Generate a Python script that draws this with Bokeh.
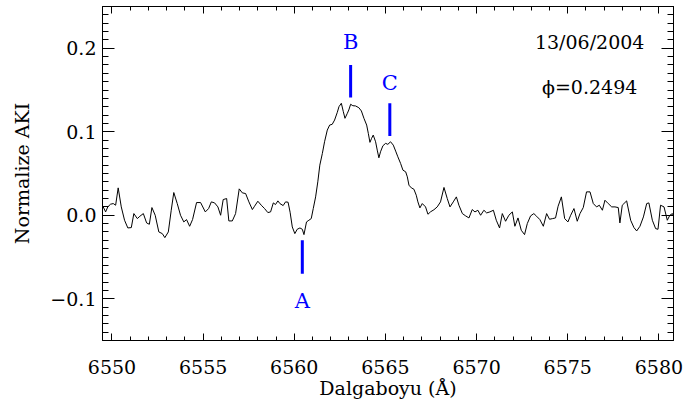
from bokeh.plotting import figure
from bokeh.models import Range1d, FixedTicker, LinearAxis
from bokeh.embed import file_html
from bokeh.resources import INLINE
from bokeh.core.properties import value

# ---- data ----
wavelength = [
    6549.52, 6549.65, 6549.77, 6549.92, 6550.07, 6550.20, 6550.34, 6550.51, 6550.69, 6550.87,
    6551.06, 6551.20, 6551.39, 6551.53, 6551.72, 6551.90, 6552.05, 6552.19, 6552.37, 6552.57,
    6552.76, 6552.90, 6553.09, 6553.25, 6553.39, 6553.58, 6553.76, 6553.94, 6554.09, 6554.26,
    6554.42, 6554.64, 6554.86, 6555.12, 6555.30, 6555.45, 6555.63, 6555.81, 6555.96, 6556.10,
    6556.29, 6556.41, 6556.60, 6556.78, 6556.98, 6557.15, 6557.33, 6557.51, 6557.70, 6557.82,
    6558.00, 6558.19, 6558.37, 6558.55, 6558.70, 6558.85, 6558.97, 6559.10, 6559.21, 6559.39,
    6559.52, 6559.66, 6559.77, 6559.89, 6560.03, 6560.16, 6560.31, 6560.44, 6560.53, 6560.67,
    6560.80, 6560.93, 6561.04, 6561.17, 6561.29, 6561.40, 6561.54, 6561.66, 6561.81, 6561.94,
    6562.08, 6562.21, 6562.36, 6562.45, 6562.58, 6562.69, 6562.78, 6562.91, 6562.99, 6563.09,
    6563.21, 6563.36, 6563.54, 6563.68, 6563.82, 6563.97, 6564.06, 6564.15, 6564.24, 6564.33,
    6564.46, 6564.55, 6564.64, 6564.73, 6564.86, 6565.01, 6565.13, 6565.28, 6565.43, 6565.56,
    6565.68, 6565.83, 6565.96, 6566.11, 6566.20, 6566.29, 6566.42, 6566.56, 6566.69, 6566.78,
    6566.89, 6567.02, 6567.20, 6567.33, 6567.48, 6567.66, 6567.84, 6568.02, 6568.21, 6568.39,
    6568.54, 6568.72, 6568.89, 6569.03, 6569.22, 6569.40, 6569.58, 6569.76, 6569.91, 6570.07,
    6570.22, 6570.40, 6570.55, 6570.73, 6570.92, 6571.08, 6571.26, 6571.41, 6571.59, 6571.77,
    6571.96, 6572.10, 6572.27, 6572.45, 6572.63, 6572.78, 6572.96, 6573.14, 6573.29, 6573.47,
    6573.66, 6573.84, 6574.00, 6574.17, 6574.33, 6574.47, 6574.65, 6574.83, 6575.01, 6575.16,
    6575.34, 6575.52, 6575.67, 6575.85, 6576.03, 6576.22, 6576.40, 6576.58, 6576.73, 6576.90,
    6577.04, 6577.22, 6577.41, 6577.59, 6577.77, 6577.86, 6577.99, 6578.23, 6578.45, 6578.63,
    6578.78, 6578.96, 6579.15, 6579.33, 6579.45, 6579.64, 6579.82, 6579.95, 6580.09, 6580.28,
    6580.46, 6580.60, 6580.74, 6580.82,
]
flux = [
    0.0100, 0.0040, 0.0100, 0.0132, 0.0140, 0.0120, 0.0328, 0.0100, -0.0060, -0.0152,
    -0.0148, 0.0020, -0.0040, -0.0012, 0.0020, -0.0092, -0.0108, 0.0092, 0.0000, -0.0200,
    -0.0220, -0.0268, -0.0200, 0.0060, 0.0272, 0.0140, 0.0000, -0.0080, -0.0052, -0.0132,
    -0.0052, 0.0152, 0.0152, 0.0040, 0.0080, 0.0160, 0.0148, 0.0100, 0.0000, 0.0188,
    0.0200, -0.0068, -0.0068, 0.0020, 0.0316, 0.0268, 0.0260, 0.0160, 0.0068, 0.0108,
    0.0168, 0.0120, 0.0080, 0.0032, 0.0040, 0.0148, 0.0128, 0.0172, 0.0140, 0.0116,
    0.0160, 0.0156, 0.0036, -0.0140, -0.0220, -0.0168, -0.0152, -0.0168, -0.0232, -0.0080,
    -0.0060, -0.0040, 0.0080, 0.0220, 0.0400, 0.0600, 0.0741, 0.0880, 0.1020, 0.1080,
    0.1089, 0.1140, 0.1233, 0.1300, 0.1341, 0.1240, 0.1161, 0.1221, 0.1261, 0.1329,
    0.1312, 0.1309, 0.1288, 0.1249, 0.1161, 0.1080, 0.0981, 0.0873, 0.0921, 0.0960,
    0.0880, 0.0780, 0.0688, 0.0760, 0.0832, 0.0861, 0.0849, 0.0880, 0.0840, 0.0768,
    0.0700, 0.0621, 0.0540, 0.0520, 0.0460, 0.0360, 0.0328, 0.0312, 0.0240, 0.0160,
    0.0088, 0.0140, 0.0100, 0.0012, 0.0042, 0.0066, 0.0100, 0.0160, 0.0333, 0.0200,
    0.0100, 0.0160, 0.0220, 0.0120, 0.0020, -0.0008, -0.0032, 0.0068, 0.0040, 0.0060,
    0.0000, 0.0060, 0.0028, 0.0040, 0.0060, -0.0060, -0.0152, 0.0020, -0.0072, 0.0000,
    0.0040, -0.0132, -0.0032, -0.0180, -0.0232, -0.0100, -0.0008, 0.0020, -0.0012, -0.0052,
    -0.0132, 0.0020, -0.0048, -0.0040, -0.0032, 0.0108, 0.0220, -0.0040, -0.0080, 0.0000,
    0.0080, -0.0072, 0.0020, 0.0092, 0.0280, 0.0280, 0.0140, 0.0100, 0.0120, 0.0060,
    0.0180, 0.0140, 0.0100, 0.0100, 0.0092, -0.0092, 0.0120, 0.0172, -0.0060, -0.0148,
    -0.0188, -0.0132, -0.0020, 0.0140, 0.0148, -0.0060, -0.0160, -0.0168, 0.0120, 0.0100,
    -0.0060, 0.0000, 0.0020, -0.0020,
]

mark_names = ["A", "B", "C"]
mark_wl = [6560.44, 6563.09, 6565.24]
mark_y_start = [-0.030, 0.141, 0.095]
mark_y_end = [-0.070, 0.180, 0.134]
mark_label_y = [-0.1025, 0.208, 0.158]

date_text = "13/06/2004"
phase_text = "\u03d5=0.2494"
note_x = 6576.2
date_y = 0.208
phase_y = 0.1535

x_ticks = [6550, 6555, 6560, 6565, 6570, 6575, 6580]
y_ticks = [-0.1, 0.0, 0.1, 0.2]
y_tick_labels = ["\u22120.1", "0.0", "0.1", "0.2"]
x_minor = [6549 + i for i in range(1, 32)]
y_minor = [round(-0.15 + 0.01 * i, 2) for i in range(0, 41)]

FONT = "DejaVu Serif"

p = figure(width=683, height=405,
           x_range=Range1d(6549.48, 6580.8), y_range=Range1d(-0.15, 0.25),
           output_backend="svg", toolbar_location=None,
           min_border_left=102, min_border_right=10,
           min_border_top=6, min_border_bottom=65,
           background_fill_color="white", border_fill_color="white",
           outline_line_color="black", outline_line_width=1)
p.grid.visible = False

p.line(wavelength, flux, line_color="black", line_width=1)

p.segment(x0=mark_wl, y0=mark_y_start, x1=mark_wl, y1=mark_y_end,
          line_color="#0000ff", line_width=3)
p.text(x=mark_wl, y=mark_label_y, text=mark_names,
       text_font=value(FONT), text_font_size="21px", text_color="#0000ff",
       text_align="center", text_baseline="middle")

p.text(x=[note_x, note_x], y=[date_y, phase_y], text=[date_text, phase_text],
       text_font=value(FONT), text_font_size="19px", text_color="black",
       text_align="center", text_baseline="middle")

xt = FixedTicker(ticks=x_ticks, minor_ticks=x_minor)
yt = FixedTicker(ticks=y_ticks, minor_ticks=y_minor)

xa = p.xaxis[0]
xa.ticker = xt
xa.axis_label = "Dalgaboyu (\u00c5)"
xa.major_label_standoff = 19
xa.axis_label_standoff = 0

ya = p.yaxis[0]
ya.ticker = yt
ya.axis_label = "Normalize AKI"
ya.major_label_overrides = {t: s for t, s in zip(y_ticks, y_tick_labels)}
ya.major_label_standoff = 6
ya.axis_label_standoff = 14

for ax in (xa, ya):
    ax.major_label_text_font = FONT
    ax.major_label_text_font_size = "19px"
    ax.major_label_text_color = "black"
    ax.axis_label_text_font = FONT
    ax.axis_label_text_font_size = "19px"
    ax.axis_label_text_font_style = "normal"
    ax.axis_label_text_color = "black"
    ax.axis_line_color = "black"
    ax.major_tick_line_color = "black"
    ax.minor_tick_line_color = "black"
    ax.major_tick_out = 0
    ax.minor_tick_out = 0

xa.major_tick_in = 7
xa.minor_tick_in = 4
ya.major_tick_in = 12
ya.minor_tick_in = 6

top = LinearAxis(ticker=FixedTicker(ticks=x_ticks, minor_ticks=x_minor),
                 major_label_overrides={t: "" for t in x_ticks},
                 major_label_text_font_size="1px", major_label_standoff=0,
                 major_tick_in=7, major_tick_out=0, minor_tick_in=4, minor_tick_out=0,
                 axis_line_color="black")
right = LinearAxis(ticker=FixedTicker(ticks=y_ticks, minor_ticks=y_minor),
                   major_label_overrides={t: "" for t in y_ticks},
                   major_label_text_font_size="1px", major_label_standoff=0,
                   major_tick_in=12, major_tick_out=0, minor_tick_in=6, minor_tick_out=0,
                   axis_line_color="black")
p.add_layout(top, "above")
p.add_layout(right, "right")

open("out.html", "w").write(file_html(p, INLINE))
